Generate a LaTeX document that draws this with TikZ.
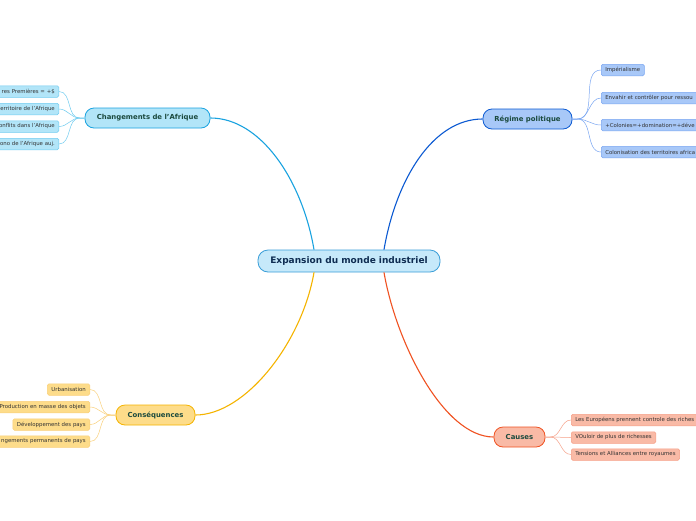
\documentclass[tikz,border=0pt]{standalone}
\usepackage{fontspec}
\setmainfont{DejaVu Sans}
\usetikzlibrary{calc}
\definecolor{cfill}{HTML}{C6E9FA}
\definecolor{cdraw}{HTML}{3A9ED8}
\definecolor{ctext}{HTML}{0F2D52}
\definecolor{btext}{HTML}{1B4A3E}
\definecolor{ltext}{HTML}{333333}
\definecolor{chfill}{HTML}{B2E5F8}
\definecolor{chdraw}{HTML}{1AA3E0}
\definecolor{chleaf}{HTML}{70CCF0}
\definecolor{rpfill}{HTML}{A8C8F8}
\definecolor{rpdraw}{HTML}{0C5AD2}
\definecolor{rpleaf}{HTML}{7AA6F2}
\definecolor{cqfill}{HTML}{FDDC8A}
\definecolor{cqdraw}{HTML}{F5B400}
\definecolor{cqleaf}{HTML}{FAD07A}
\definecolor{cafill}{HTML}{F9BAA6}
\definecolor{cadraw}{HTML}{F05222}
\definecolor{caleaf}{HTML}{F6A088}
\begin{document}
\begin{tikzpicture}[x=1pt,y=-1pt,
  central/.style={draw=cdraw, fill=cfill, line width=0.8pt, rounded corners=10pt,
    minimum width=182pt, minimum height=22pt, inner sep=0pt, text=ctext,
    font=\fontsize{9}{11}\selectfont\bfseries},
  branch/.style={line width=0.8pt, rounded corners=9pt, minimum height=20pt,
    inner sep=0pt, text=btext, font=\fontsize{6.9}{8}\selectfont\bfseries},
  leaf/.style={line width=0.5pt, rounded corners=1.5pt, minimum height=11.5pt,
    inner xsep=4pt, inner ysep=0pt, text=ltext, font=\fontsize{5.4}{6.5}\selectfont},
  cutL/.style={anchor=east, text width=90pt, align=right},
  cutR/.style={anchor=west, text width=140pt, align=left},
  chleafs/.style={leaf, draw=chleaf, fill=chfill},
  rpleafs/.style={leaf, draw=rpleaf, fill=rpfill},
  cqleafs/.style={leaf, draw=cqleaf, fill=cqfill},
  caleafs/.style={leaf, draw=caleaf, fill=cafill},
  main/.style={line width=1.1pt},
  thin/.style={line width=0.5pt}]
\useasboundingbox (0,0) rectangle (696,520);
\fill[white] (0,0) rectangle (696,520);
\clip (0,0) rectangle (696,520);

% central
\node[central] (c) at (349,261) {Expansion du monde industriel};

% branches
\node[branch, draw=chdraw, fill=chfill, minimum width=125pt] (ch) at (147.5,118) {Changements de l'Afrique};
\node[branch, draw=rpdraw, fill=rpfill, minimum width=89pt] (rp) at (527.5,119) {Régime politique};
\node[branch, draw=cqdraw, fill=cqfill, minimum width=79pt] (cq) at (155.5,415) {Conséquences};
\node[branch, draw=cadraw, fill=cafill, minimum width=51pt] (ca) at (519.5,437) {Causes};

% main connectors
\draw[main, chdraw] ($(c.north)+(-35,0)$) .. controls +(-12,-70) and +(50,0) .. (ch.east);
\draw[main, rpdraw] ($(c.north)+(35,0)$) .. controls +(12,-70) and +(-50,0) .. (rp.west);
\draw[main, cqdraw] ($(c.south)+(-35,0)$) .. controls +(-12,70) and +(50,0) .. (cq.east);
\draw[main, cadraw] ($(c.south)+(35,0)$) .. controls +(12,70) and +(-50,0) .. (ca.west);

% Changements leaves
\node[chleafs, cutL] (ch1) at (59,91.5) {res Premières = +\$};
\node[chleafs, cutL] (ch2) at (59,109) {erritoire de l'Afrique};
\node[chleafs, cutL] (ch3) at (59,126.5) {onflits dans l'Afrique};
\node[chleafs, cutL] (ch4) at (59,144) {ono de l'Afrique auj.};
\foreach \n in {ch1,ch2,ch3,ch4}
  \draw[thin, chleaf] (ch.west) -- ++(-5,0) to[out=180,in=0] (\n.east);

% Regime leaves
\node[rpleafs, anchor=west] (rp1) at (601,70) {Impérialisme};
\node[rpleafs, cutR] (rp2) at (601,98) {Envahir et contrôler pour ressou};
\node[rpleafs, cutR] (rp3) at (601,125) {+Colonies=+domination=+déve};
\node[rpleafs, cutR] (rp4) at (601,152) {Colonisation des territoires africa};
\foreach \n in {rp1,rp2,rp3,rp4}
  \draw[thin, rpleaf] (rp.east) -- ++(5,0) to[out=0,in=180] (\n.west);

% Consequences leaves
\node[cqleafs, anchor=east] (cq1) at (90,389.5) {Urbanisation};
\node[cqleafs, cutL] (cq2) at (90,407) {Production en masse des objets};
\node[cqleafs, anchor=east] (cq3) at (90,424.5) {Développement des pays};
\node[cqleafs, cutL] (cq4) at (90,441.5) {ngements permanents de pays};
\foreach \n in {cq1,cq2,cq3,cq4}
  \draw[thin, cqleaf] (cq.west) -- ++(-5,0) to[out=180,in=0] (\n.east);

% Causes leaves
\node[caleafs, cutR] (ca1) at (571,420) {Les Européens prennent controle des riches};
\node[caleafs, anchor=west] (ca2) at (571,437.5) {VOuloir de plus de richesses};
\node[caleafs, anchor=west] (ca3) at (571,454.5) {Tensions et Alliances entre royaumes};
\foreach \n in {ca1,ca2,ca3}
  \draw[thin, caleaf] (ca.east) -- ++(5,0) to[out=0,in=180] (\n.west);
\end{tikzpicture}
\end{document}
